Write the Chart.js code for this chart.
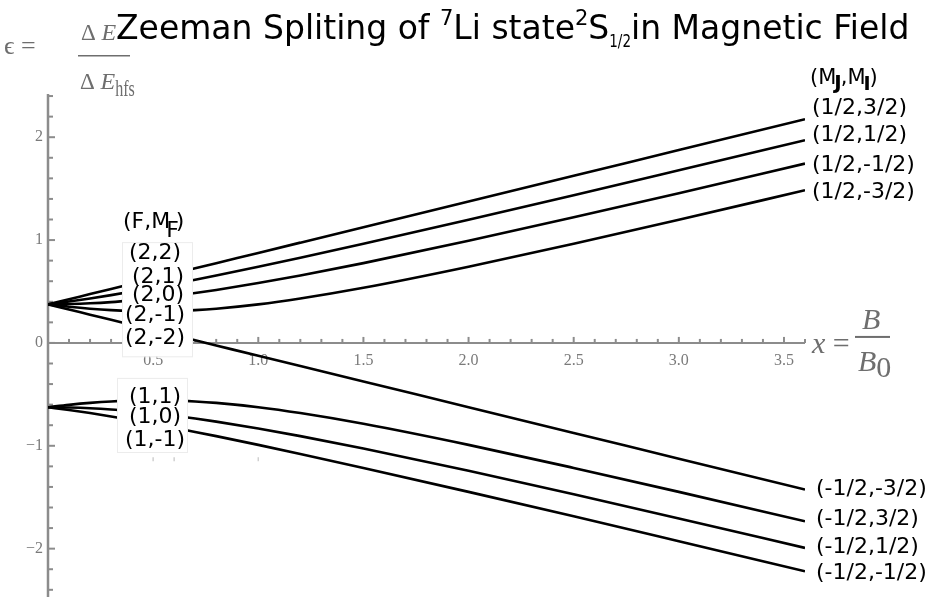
<!DOCTYPE html>
<html>
<head>
<meta charset="utf-8">
<script src="https://cdn.jsdelivr.net/npm/chart.js@4.4.1/dist/chart.umd.min.js"></script>
<style>
  html, body { margin: 0; padding: 0; background: #fff; }
  #wrap { width: 935px; height: 600px; }
</style>
</head>
<body>
<div id="wrap"><canvas id="zeeman" width="935" height="600"></canvas></div>
<script>
// reduced field x = B/B0
const xs = [0, 0.1, 0.2, 0.3, 0.4, 0.5, 0.6, 0.7, 0.8, 1.0, 1.2, 1.5, 2.0, 2.5, 3.0, 3.6];

// upper hyperfine level F=2 -> (M_J=1/2, M_I)
const up32  = [0.375, 0.425, 0.475, 0.525, 0.575, 0.625, 0.675, 0.725, 0.775, 0.875, 0.975, 1.125, 1.375, 1.625, 1.875, 2.175];
const up12  = [0.375, 0.402, 0.432, 0.465, 0.500, 0.536, 0.575, 0.615, 0.656, 0.741, 0.829, 0.965, 1.198, 1.436, 1.678, 1.970];
const upM12 = [0.375, 0.378, 0.385, 0.397, 0.414, 0.434, 0.458, 0.485, 0.515, 0.582, 0.656, 0.776, 0.993, 1.221, 1.456, 1.743];
const upM32 = [0.375, 0.352, 0.333, 0.319, 0.311, 0.308, 0.311, 0.319, 0.333, 0.375, 0.432, 0.536, 0.741, 0.965, 1.198, 1.484];

// (2,-2) crosses down, then the F=1 level -> (M_J=-1/2, M_I)
const loM32 = [0.375, 0.325, 0.275, 0.225, 0.175, 0.125, 0.075, 0.025, -0.025, -0.125, -0.225, -0.375, -0.625, -0.875, -1.125, -1.425];
const lo32  = [-0.625, -0.602, -0.583, -0.569, -0.561, -0.558, -0.561, -0.569, -0.583, -0.625, -0.682, -0.786, -0.991, -1.215, -1.448, -1.734];
const lo12  = [-0.625, -0.628, -0.635, -0.647, -0.664, -0.684, -0.708, -0.735, -0.765, -0.832, -0.906, -1.026, -1.243, -1.471, -1.706, -1.993];
const loM12 = [-0.625, -0.652, -0.682, -0.715, -0.750, -0.786, -0.825, -0.865, -0.906, -0.991, -1.079, -1.215, -1.448, -1.686, -1.928, -2.220];

const xTicks = [0.5, 1.0, 1.5, 2.0, 2.5, 3.0, 3.5];
const yTicks = [-2, -1, 0, 1, 2];

// state labels: [text, y value]
const highLabels = [['(1/2,3/2)', 2.28], ['(1/2,1/2)', 2.02], ['(1/2,-1/2)', 1.73], ['(1/2,-3/2)', 1.465]];
const lowLabels = [['(-1/2,-3/2)', -1.425], ['(-1/2,3/2)', -1.715], ['(-1/2,1/2)', -1.99], ['(-1/2,-1/2)', -2.235]];
const f2Labels = [['(2,2)', 0.874], ['(2,1)', 0.641], ['(2,0)', 0.466], ['(2,-1)', 0.272], ['(2,-2)', 0.049]];
const f1Labels = [['(1,1)', -0.524], ['(1,0)', -0.718], ['(1,-1)', -0.942]];

// stray tick marks left under the F=1 box
const strayTicks = [0.5, 0.6, 1.0];

const series = [up32, up12, upM12, upM32, loM32, lo32, lo12, loM12];

const SANS = '"DejaVu Sans", sans-serif';
const SERIF = '"Liberation Serif", "Times New Roman", serif';
const AXIS = '#8c8c8c';
const TICKTXT = '#7a7a7a';

// draws a run of text pieces with their own size / baseline shift / squeeze
function drawRich(ctx, x, y, parts, family, color) {
  ctx.fillStyle = color;
  ctx.textAlign = 'left';
  ctx.textBaseline = 'alphabetic';
  for (const p of parts) {
    ctx.font = (p.style || '') + ' ' + p.size + 'px ' + family;
    x += p.dx || 0;
    const sx = p.sx || 1;
    ctx.save();
    ctx.translate(x, y + (p.dy || 0));
    ctx.scale(sx, 1);
    ctx.fillText(p.t, 0, 0);
    ctx.restore();
    x += ctx.measureText(p.t).width * sx;
  }
  return x;
}

const decorations = {
  id: 'decorations',
  beforeDatasetsDraw(chart) {
    const ctx = chart.ctx;
    const xs_ = chart.scales.x, ys_ = chart.scales.y;
    const x0 = xs_.getPixelForValue(0), y0 = ys_.getPixelForValue(0);
    const area = chart.chartArea;
    ctx.save();
    ctx.strokeStyle = AXIS;
    // y axis
    ctx.lineWidth = 2.5;
    ctx.beginPath();
    ctx.moveTo(x0, area.top);
    ctx.lineTo(x0, area.bottom);
    ctx.stroke();
    // x axis through zero
    ctx.lineWidth = 2;
    ctx.beginPath();
    ctx.moveTo(x0, y0);
    ctx.lineTo(area.right, y0);
    ctx.stroke();
    // ticks on x: minor every 0.1, major every 0.5
    for (let i = 1; i <= 36; i++) {
      const px = xs_.getPixelForValue(i / 10);
      const len = i % 5 === 0 ? 6 : 4;
      ctx.beginPath();
      ctx.moveTo(px, y0);
      ctx.lineTo(px, y0 - len);
      ctx.stroke();
    }
    // ticks on y: minor every 0.2
    for (let i = -12; i <= 12; i++) {
      const v = i / 5;
      if (v < ys_.min || v > ys_.max) continue;
      const py = ys_.getPixelForValue(v);
      const len = i % 5 === 0 ? 7 : 5;
      ctx.beginPath();
      ctx.moveTo(x0, py);
      ctx.lineTo(x0 + len, py);
      ctx.stroke();
    }
    // faint leftover ticks
    ctx.strokeStyle = '#d0d0d0';
    ctx.lineWidth = 1.5;
    const ys = ys_.getPixelForValue(-1.15);
    strayTicks.forEach(v => {
      const px = xs_.getPixelForValue(v);
      ctx.beginPath();
      ctx.moveTo(px, ys);
      ctx.lineTo(px, ys - 4);
      ctx.stroke();
    });
    // tick labels
    ctx.fillStyle = TICKTXT;
    ctx.font = '16px ' + SERIF;
    ctx.textBaseline = 'middle';
    ctx.textAlign = 'center';
    xTicks.forEach(v => ctx.fillText(v.toFixed(1), xs_.getPixelForValue(v), y0 + 18));
    ctx.textAlign = 'right';
    yTicks.forEach(v => ctx.fillText(v < 0 ? '\u2212' + Math.abs(v) : String(v), x0 - 5, ys_.getPixelForValue(v)));
    ctx.restore();
  },
  afterDatasetsDraw(chart) {
    const ctx = chart.ctx;
    const xs_ = chart.scales.x, ys_ = chart.scales.y;
    const y0 = ys_.getPixelForValue(0);
    ctx.save();

    // white label boxes over the low-field fan
    ctx.fillStyle = '#fff';
    ctx.strokeStyle = '#ececec';
    ctx.lineWidth = 1;
    const b1t = ys_.getPixelForValue(0.98), b1b = ys_.getPixelForValue(-0.13);
    const b2t = ys_.getPixelForValue(-0.34), b2b = ys_.getPixelForValue(-1.06);
    ctx.fillRect(122, b1t, 71, b1b - b1t);
    ctx.strokeRect(122.5, b1t + 0.5, 70, b1b - b1t);
    ctx.fillRect(117, b2t, 71, b2b - b2t);
    ctx.strokeRect(117.5, b2t + 0.5, 70, b2b - b2t);

    ctx.fillStyle = '#000';
    ctx.font = '22px ' + SANS;
    ctx.textBaseline = 'middle';
    ctx.textAlign = 'center';
    f2Labels.forEach(([t, v], i) => ctx.fillText(t, 155 + (i === 1 || i === 2 ? 3 : 0), ys_.getPixelForValue(v)));
    f1Labels.forEach(([t, v]) => ctx.fillText(t, 155, ys_.getPixelForValue(v)));

    ctx.textAlign = 'left';
    const xr = xs_.getPixelForValue(3.6);
    highLabels.forEach(([t, v]) => ctx.fillText(t, xr + 7, ys_.getPixelForValue(v)));
    lowLabels.forEach(([t, v]) => ctx.fillText(t, xr + 11, ys_.getPixelForValue(v)));

    // (F,M_F) and (M_J,M_I) headers
    const fy = ys_.getPixelForValue(1.194) + 8;
    drawRich(ctx, 123, fy, [
      { t: '(F,M', size: 22 }, { t: 'F', size: 22, dx: -4, dy: 9 }, { t: ')', size: 22, dx: -3 }
    ], SANS, '#000');
    drawRich(ctx, 810, 84, [
      { t: '(M', size: 21 }, { t: 'J', size: 20, style: 'bold', dx: -2, dy: 5 },
      { t: ',M', size: 21, dx: -1 }, { t: 'I', size: 19, style: 'bold', dy: 6, dx: -2 }, { t: ')', size: 21, dx: -1 }
    ], SANS, '#000');

    // title
    drawRich(ctx, 116, 39, [
      { t: 'Zeeman Spliting of ', size: 33 },
      { t: '7', size: 21, dy: -14 },
      { t: 'Li state', size: 33 },
      { t: '2', size: 21, dy: -14 },
      { t: 'S', size: 33 },
      { t: '1/2', size: 18, dy: 8, sx: 0.75 },
      { t: 'in Magnetic Field', size: 33 }
    ], SANS, '#000');

    // y axis quantity: eps = dE / dE_hfs
    const grey = '#6e6e6e';
    drawRich(ctx, 4, 54, [{ t: '\u03F5 =', size: 26 }], SERIF, grey);
    drawRich(ctx, 81, 40, [{ t: '\u0394 ', size: 23 }, { t: 'E', size: 24, style: 'italic' }], SERIF, grey);
    ctx.fillStyle = grey;
    ctx.fillRect(78, 55, 52, 1.5);
    drawRich(ctx, 80, 89, [{ t: '\u0394 ', size: 23 }, { t: 'E', size: 24, style: 'italic' }, { t: 'hfs', size: 23, dy: 7, sx: 0.7 }], SERIF, grey);

    // x axis quantity: x = B / B0
    drawRich(ctx, 812, y0 + 10, [{ t: 'x', size: 30, style: 'italic' }, { t: ' =', size: 30 }], SERIF, grey);
    drawRich(ctx, 862, y0 - 14, [{ t: 'B', size: 30, style: 'italic' }], SERIF, grey);
    ctx.fillStyle = grey;
    ctx.fillRect(855, y0 - 7, 35, 2);
    drawRich(ctx, 858, y0 + 28, [{ t: 'B', size: 30, style: 'italic' }, { t: '0', size: 30, dy: 6 }], SERIF, grey);
    ctx.restore();
  }
};

new Chart(document.getElementById('zeeman'), {
  type: 'line',
  data: {
    datasets: series.map(s => ({
      data: xs.map((x, i) => ({ x: x, y: s[i] })),
      borderColor: '#000',
      borderWidth: 2.6,
      pointRadius: 0,
      fill: false,
      cubicInterpolationMode: 'monotone'
    }))
  },
  options: {
    responsive: false,
    animation: false,
    layout: { padding: { left: 48, right: 130, top: 94, bottom: 3 } },
    plugins: { legend: { display: false }, tooltip: { enabled: false } },
    scales: {
      x: { type: 'linear', min: 0, max: 3.6, display: false },
      y: { type: 'linear', min: -2.47, max: 2.42, display: false }
    }
  },
  plugins: [decorations]
});
</script>
</body>
</html>
